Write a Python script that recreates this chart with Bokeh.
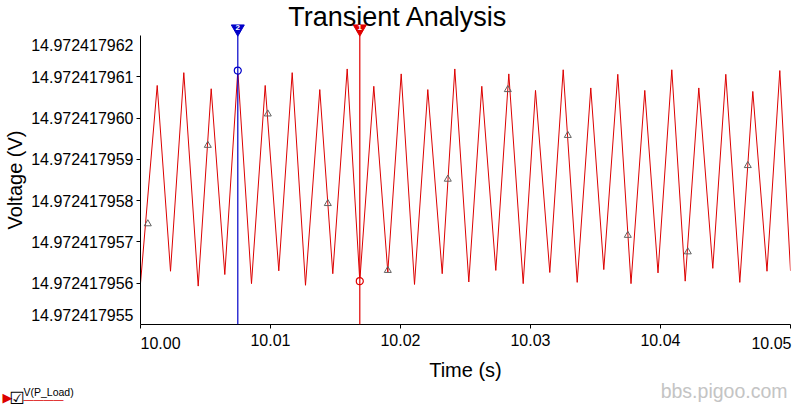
from bokeh.plotting import figure
from bokeh.models import Range1d, FixedTicker, Span
from bokeh.core.properties import value
from bokeh.embed import file_html
from bokeh.resources import INLINE

FONT = "Liberation Sans"

# ---- data (time in s, voltage as nV above 14.972417950 V) ----
trace_t = [10.000000, 10.001285, 10.002308, 10.003331, 10.004438, 10.005438, 10.006485,
           10.007485, 10.008538, 10.009592, 10.010638, 10.011669, 10.012692, 10.013792,
           10.014792, 10.015900, 10.016869, 10.017946, 10.019023, 10.020054, 10.021077,
           10.022100, 10.023208, 10.024177, 10.025254, 10.026254, 10.027331, 10.028331,
           10.029438, 10.030385, 10.031485, 10.032515, 10.033592, 10.034638, 10.035638,
           10.036715, 10.037731, 10.038792, 10.039808, 10.040869, 10.041900, 10.042946,
           10.044023, 10.045023, 10.046100, 10.047100, 10.048192, 10.049177, 10.050000]
trace_v = [6.00, 10.79, 6.29, 11.10, 5.93, 10.71, 6.21,
           11.15, 5.99, 10.79, 6.30, 11.10, 5.95, 10.69,
           6.23, 11.19, 6.05, 10.77, 6.27, 11.07, 5.97,
           10.69, 6.23, 11.19, 6.03, 10.77, 6.31, 11.07,
           5.99, 10.67, 6.26, 11.17, 6.02, 10.73, 6.33,
           11.06, 5.99, 10.67, 6.25, 11.17, 6.05, 10.73,
           6.36, 11.06, 6.02, 10.645, 6.29, 11.15, 6.30]

marker_t = [10.000562, 10.005177, 10.009792, 10.014408, 10.019023, 10.023638,
            10.028254, 10.032869, 10.037485, 10.042100, 10.046715]
marker_v = [7.44, 9.34, 10.10, 7.93, 6.31, 8.52, 10.69, 9.58, 7.16, 6.76, 8.85]

cursor_names = ["1", "2"]
cursor_t = [10.016869, 10.007485]
cursor_v = [6.05, 11.15]

x_ticks = [10.00, 10.01, 10.02, 10.03, 10.04, 10.05]
x_tick_labels = ["10.00", "10.01", "10.02", "10.03", "10.04", "10.05"]
y_ticks = [5, 6, 7, 8, 9, 10, 11, 12]
y_tick_labels = ["14.972417955", "14.972417956", "14.972417957", "14.972417958",
                 "14.972417959", "14.972417960", "14.972417961", "14.972417962"]

title_text = "Transient Analysis"
x_label = "Time (s)"
y_label = "Voltage (V)"
legend_text = "V(P_Load)"
watermark = "bbs.pigoo.com"

# ---- styles ----
TRACE = "#dc0000"
CURSOR_COLORS = ["#e00000", "#0000c8"]

X0, X1 = x_ticks[0], x_ticks[-1]
Y0, Y1 = y_ticks[0], y_ticks[-1]

p = figure(width=795, height=411, output_backend="svg", toolbar_location=None,
           x_range=Range1d(X0, X1), y_range=Range1d(Y0, Y1),
           min_border_left=140, min_border_right=5, min_border_top=35, min_border_bottom=87)
p.outline_line_color = None
p.grid.visible = False
p.background_fill_color = "white"
p.border_fill_color = "white"

for ax in (p.xaxis[0], p.yaxis[0]):
    ax.axis_line_color = "black"
    ax.major_tick_line_color = "black"
    ax.minor_tick_line_color = None
    ax.major_tick_out = 4
    ax.major_tick_in = 0
    ax.major_label_text_font = FONT
    ax.major_label_text_font_size = "16px"
    ax.major_label_text_color = "black"
    ax.axis_label_text_font = FONT
    ax.axis_label_text_font_size = "20px"
    ax.axis_label_text_font_style = "normal"
    ax.axis_label_text_color = "black"

xa = p.xaxis[0]
xa.ticker = FixedTicker(ticks=x_ticks)
xa.major_label_overrides = {t: ("" if i in (0, len(x_ticks) - 1) else l)
                            for i, (t, l) in enumerate(zip(x_ticks, x_tick_labels))}
xa.major_label_standoff = 5
xa.axis_label = x_label
xa.axis_label_standoff = 10

ya = p.yaxis[0]
ya.ticker = FixedTicker(ticks=y_ticks[1:-1])
ya.major_label_overrides = {t: l for t, l in zip(y_ticks[1:-1], y_tick_labels[1:-1])}
ya.major_label_standoff = 3
ya.axis_label = y_label
ya.axis_label_standoff = 2


# free texts drawn as overlay glyphs (not clipped to the frame); yo > 0 moves down
def add_text(text, x, y, xo, yo, align, size, color="black", font=FONT,
             baseline="middle", style="normal"):
    p.text(x=[x], y=[y], text=[text], x_offset=xo, y_offset=yo, text_align=align,
           text_baseline=baseline, text_font=value(font), text_font_size=value(size),
           text_color=color, text_font_style=style, level="overlay")


# end tick labels nudged inside, as in the original
add_text(y_tick_labels[-1], X0, Y1, -7, 9, "right", "16px")
add_text(y_tick_labels[0], X0, Y0, -7, -10, "right", "16px")
add_text(x_tick_labels[0], X0, Y0, 0, 18, "left", "16px")
add_text(x_tick_labels[-1], X1, Y0, 1, 18, "right", "16px")

# title
add_text(title_text, (X0 + X1) / 2, Y1, -67.5, -18.5, "center", "27px")

# trace
p.line(trace_t, trace_v, line_color=TRACE, line_width=1)
p.scatter(marker_t, marker_v, marker="triangle", size=7, fill_color=None,
          line_color="#606060", line_width=1)

# cursors
for name, t, v, c in zip(cursor_names, cursor_t, cursor_v, CURSOR_COLORS):
    p.add_layout(Span(location=t, dimension="height", line_color=c, line_width=1.2))
    p.scatter([t], [v], marker="circle", size=7, fill_color="white", line_color=c, line_width=1.2)
    p.scatter([t], [Y1 + 0.165], marker="inverted_triangle", size=13, fill_color=c,
              line_color=c, level="overlay")
    add_text(name, t, Y1, 0, -8.5, "center", "8px", color="white", style="bold")

# legend (bottom-left)
add_text("\u25B6", X0, Y0, -138, 73, "left", "13px", color=TRACE, font="DejaVu Sans")
add_text("\u2611", X0, Y0, -131, 73, "left", "17px", font="DejaVu Sans")
add_text(legend_text, X0, Y0, -117, 67, "left", "10.5px")
add_text("\u2015" * 4, X0, Y0, -117, 75, "left", "10px", color=TRACE, font="DejaVu Sans")

# watermark
add_text(watermark, X1, Y0, -3, 66, "right", "19.5px", color="#c4c4c4")

open("out.html", "w").write(file_html(p, INLINE))
